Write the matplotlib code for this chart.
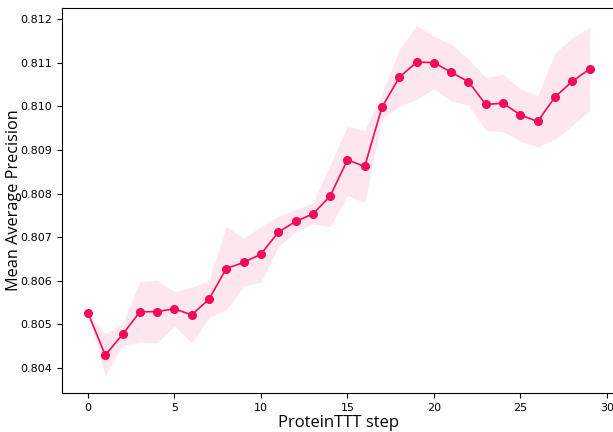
import matplotlib
matplotlib.use("Agg")
import matplotlib.pyplot as plt
import numpy as np

steps = list(range(30))
mean_ap = [0.805265, 0.804297, 0.804771, 0.805288, 0.805297, 0.805357, 0.805220, 0.805580,
           0.806282, 0.806420, 0.806610, 0.807110, 0.807360, 0.807530, 0.807938, 0.808770,
           0.808620, 0.809980, 0.810660, 0.811010, 0.811000, 0.810780, 0.810560, 0.810040,
           0.810070, 0.809800, 0.809650, 0.810210, 0.810570, 0.810850]
upper = [0.805265, 0.804794, 0.805007, 0.805980, 0.806010, 0.805760, 0.805850, 0.806010,
         0.807250, 0.806970, 0.807250, 0.807480, 0.807630, 0.807780, 0.808650, 0.809540,
         0.809440, 0.810290, 0.811300, 0.811850, 0.811600, 0.811420, 0.811080, 0.810660,
         0.810730, 0.810400, 0.810240, 0.811210, 0.811570, 0.811810]
lower = [0.805265, 0.803816, 0.804520, 0.804600, 0.804580, 0.804960, 0.804580, 0.805160,
         0.805340, 0.805880, 0.805970, 0.806780, 0.807120, 0.807310, 0.807240, 0.807960,
         0.807790, 0.809720, 0.810000, 0.810160, 0.810400, 0.810120, 0.810020, 0.809450,
         0.809420, 0.809200, 0.809070, 0.809240, 0.809560, 0.809910]
xticks = [0, 5, 10, 15, 20, 25, 30]
yticks = [0.804, 0.805, 0.806, 0.807, 0.808, 0.809, 0.810, 0.811, 0.812]

color = "#f50a55"

fig = plt.figure(figsize=(6.13, 4.32), dpi=100)
ax = fig.add_axes([62/613, 39/432, (615.5-62)/613, (393-8)/432])
ax.fill_between(steps, lower, upper, color=color, alpha=0.1, linewidth=0)
ax.plot(steps, mean_ap, color=color, linewidth=1.2, marker="o", markersize=5.5)
ax.set_xlim(-1.5, 30.5)
ax.set_ylim(0.80343, 0.81225)
ax.set_xticks(xticks)
ax.set_yticks(yticks)
ax.set_yticklabels([f"{v:.3f}" for v in yticks])
ax.tick_params(labelsize=8)
ax.set_xlabel("ProteinTTT step", fontsize=12, family="Open Sans")
ax.set_ylabel("Mean Average Precision", fontsize=11.7, family="Open Sans")
ax.xaxis.set_label_coords(0.5, -0.058)
ax.yaxis.set_label_coords(-0.073, 0.5)
fig.savefig("out.png", dpi=100)
